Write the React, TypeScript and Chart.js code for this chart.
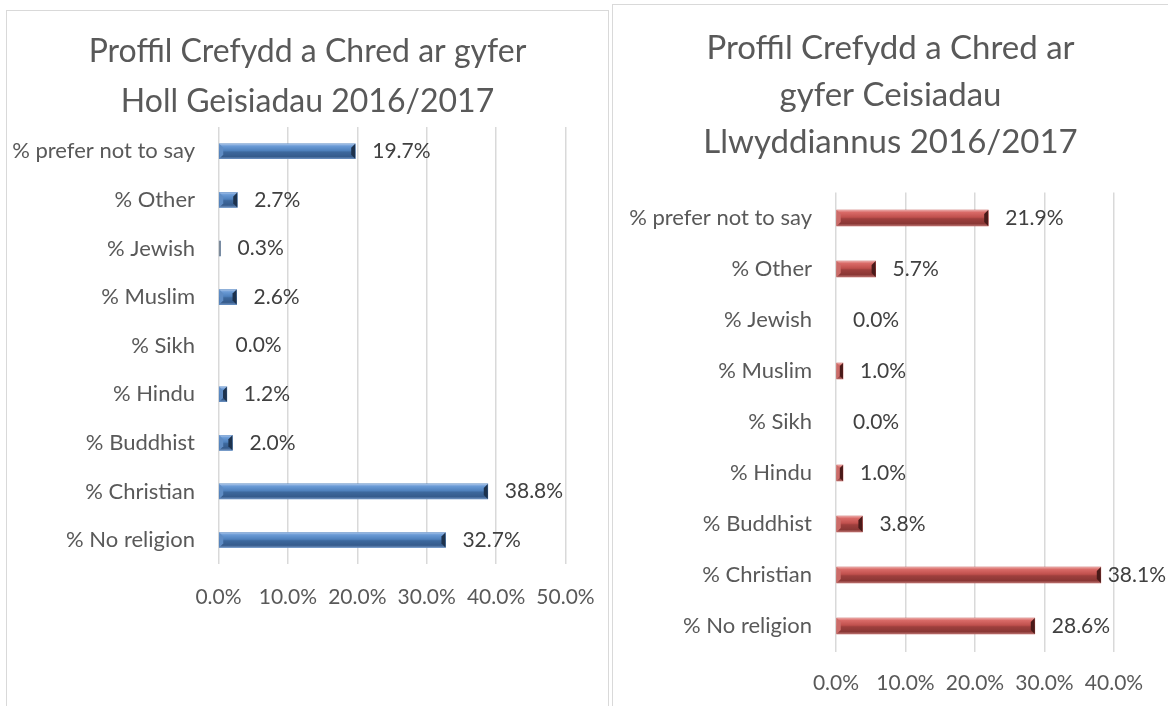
import React, { useEffect, useRef } from 'react';
import { Chart, registerables } from 'chart.js';

Chart.register(...registerables);

const categories = [
  '% prefer not to say',
  '% Other',
  '% Jewish',
  '% Muslim',
  '% Sikh',
  '% Hindu',
  '% Buddhist',
  '% Christian',
  '% No religion',
];
const allApplicantsPct = [19.7, 2.7, 0.3, 2.6, 0.0, 1.2, 2.0, 38.8, 32.7];
const successfulApplicantsPct = [21.9, 5.7, 0.0, 1.0, 0.0, 1.0, 3.8, 38.1, 28.6];
const leftTitle = ['Proffil Crefydd a Chred ar gyfer', 'Holl Geisiadau 2016/2017'];
const rightTitle = ['Proffil Crefydd a Chred ar', 'gyfer Ceisiadau', 'Llwyddiannus 2016/2017'];
const leftAxisMax = 50;
const rightAxisMax = 40;
const axisStep = 10;

const FONT = 'Lato';
const TEXT_GREY = '#595959';
const LABEL_GREY = '#404040';

const bluePalette = {
  base: '#4F81BD',
  stops: ['#a9c4e8', '#6b9bd6', '#4f81bd', '#3d689d', '#355b8c', '#6f90bd'],
  cap: '#1d324d',
  capLeft: '#5f8cc4',
};
const redPalette = {
  base: '#C0504D',
  stops: ['#eaa7a5', '#d96a67', '#c0504d', '#9e3f3d', '#8a3735', '#b86e6c'],
  cap: '#4a1a19',
  capLeft: '#cc6c69',
};

const bevelPlugin = {
  id: 'bevelBars',
  afterDatasetsDraw(chart: any, _args: any, opts: any) {
    const pal = opts.palette;
    const ctx = chart.ctx;
    const meta = chart.getDatasetMeta(0);
    meta.data.forEach((el: any) => {
      const { x, y, base, height } = el.getProps(['x', 'y', 'base', 'height'], true);
      const left = Math.min(x, base);
      const right = Math.max(x, base);
      const w = right - left;
      if (w < 0.3) return;
      const top = y - height / 2;
      const bottom = y + height / 2;
      ctx.save();
      if (w < 2) {
        ctx.fillStyle = '#8d8d8d';
        ctx.fillRect(left, top, Math.max(w, 1), height);
        ctx.restore();
        return;
      }
      const g = ctx.createLinearGradient(0, top, 0, bottom);
      g.addColorStop(0, pal.stops[0]);
      g.addColorStop(0.15, pal.stops[1]);
      g.addColorStop(0.45, pal.stops[2]);
      g.addColorStop(0.55, pal.stops[3]);
      g.addColorStop(0.85, pal.stops[4]);
      g.addColorStop(1, pal.stops[5]);
      ctx.fillStyle = g;
      ctx.fillRect(left, top, w, height);
      const b = Math.min(4, w / 2, height / 2);
      ctx.fillStyle = pal.capLeft;
      ctx.beginPath();
      ctx.moveTo(left, top);
      ctx.lineTo(left + b, top + b);
      ctx.lineTo(left + b, bottom - b);
      ctx.lineTo(left, bottom);
      ctx.closePath();
      ctx.fill();
      ctx.fillStyle = pal.cap;
      ctx.beginPath();
      ctx.moveTo(right - b, top + b);
      ctx.lineTo(right, top);
      ctx.lineTo(right, bottom);
      ctx.lineTo(right - b, bottom - b);
      ctx.closePath();
      ctx.fill();
      ctx.restore();
    });
  },
};

const valueLabelPlugin = {
  id: 'valueLabels',
  afterDatasetsDraw(chart: any, _args: any, opts: any) {
    const ctx = chart.ctx;
    const meta = chart.getDatasetMeta(0);
    const data = chart.data.datasets[0].data;
    ctx.save();
    ctx.font = `${opts.size}px ${FONT}`;
    ctx.fillStyle = LABEL_GREY;
    ctx.textBaseline = 'middle';
    ctx.textAlign = 'left';
    meta.data.forEach((el: any, i: number) => {
      const text = Number(data[i]).toFixed(1) + '%';
      const tw = ctx.measureText(text).width;
      let tx = el.x + opts.offset;
      tx = Math.min(tx, chart.width - tw - 2);
      ctx.fillText(text, tx, el.y);
    });
    ctx.restore();
  },
};

type PanelProps = {
  title: string[];
  values: number[];
  max: number;
  palette: any;
  box: { left: number; top: number; width: number; height: number };
  canvasW: number;
  canvasH: number;
  geo: {
    titleSize: number;
    yWidth: number;
    labelPad: number;
    padRight: number;
    titlePadTop: number;
    titleLine: number;
    titlePadBottom: number;
    xHeight: number;
    tickOffset: number;
    barThickness: number;
  };
};

function BarPanel({ title, values, max, palette, box, canvasW, canvasH, geo }: PanelProps) {
  const ref = useRef<HTMLCanvasElement | null>(null);
  useEffect(() => {
    if (!ref.current) return;
    const titleSize = geo.titleSize;
    const tickSize = 21;
    const chart = new Chart(ref.current, {
      type: 'bar',
      data: {
        labels: categories,
        datasets: [
          {
            data: values,
            backgroundColor: (c: any) => (c.raw > 0 ? palette.base : 'rgba(0,0,0,0)'),
            borderWidth: 0,
            barThickness: geo.barThickness,
          },
        ],
      },
      options: {
        indexAxis: 'y',
        animation: false,
        responsive: false,
        maintainAspectRatio: false,
        layout: { padding: 0 },
        plugins: {
          legend: { display: false },
          tooltip: { enabled: false },
          title: {
            display: true,
            text: title,
            color: TEXT_GREY,
            font: { family: FONT, size: titleSize, weight: 'normal', lineHeight: geo.titleLine / titleSize },
            padding: { top: geo.titlePadTop, bottom: geo.titlePadBottom },
          },
          bevelBars: { palette },
          valueLabels: { size: 21, offset: 17 },
        } as any,
        scales: {
          x: {
            min: 0,
            max,
            ticks: {
              stepSize: axisStep,
              color: TEXT_GREY,
              font: { family: FONT, size: tickSize, lineHeight: (geo.tickOffset * 2) / tickSize },
              padding: 0,
              callback: (v: any) => Number(v).toFixed(1) + '%',
            },
            grid: { color: '#d9d9d9', lineWidth: 1.5, drawTicks: false },
            border: { display: false },
            afterFit: (s: any) => {
              s.height = geo.xHeight;
            },
          },
          y: {
            ticks: {
              color: TEXT_GREY,
              font: { family: FONT, size: 22 },
              padding: geo.labelPad,
            },
            grid: { display: false, drawTicks: false },
            border: { display: false },
            afterFit: (s: any) => {
              s.width = geo.yWidth;
            },
          },
          yPad: {
            axis: 'y',
            type: 'category',
            position: 'right',
            display: true,
            ticks: { display: false },
            grid: { display: false, drawTicks: false },
            border: { display: false },
            afterFit: (s: any) => {
              s.width = geo.padRight;
            },
          },
        } as any,
      },
      plugins: [bevelPlugin, valueLabelPlugin],
    });
    return () => chart.destroy();
  }, []);

  return (
    <div
      style={{
        position: 'absolute',
        left: box.left,
        top: box.top,
        width: box.width,
        height: box.height,
        border: '1px solid #d9d9d9',
        background: '#fff',
      }}
    >
      <canvas ref={ref} width={canvasW} height={canvasH} style={{ display: 'block', width: canvasW, height: canvasH }} />
    </div>
  );
}

export default function App() {
  return (
    <div
      style={{
        position: 'fixed',
        left: 0,
        top: 0,
        width: 1168,
        height: 706,
        overflow: 'hidden',
        background: '#fff',
      }}
    >
      <BarPanel
        title={leftTitle}
        values={allApplicantsPct}
        max={leftAxisMax}
        palette={bluePalette}
        box={{ left: 6, top: 10, width: 601, height: 720 }}
        canvasW={601}
        canvasH={695}
        geo={{
          titleSize: 32,
          yWidth: 211.5,
          labelPad: 23.5,
          padRight: 42.5,
          titlePadTop: 16,
          titleLine: 50,
          titlePadBottom: 0,
          xHeight: 141.7,
          tickOffset: 32.7,
          barThickness: 15,
        }}
      />
      <BarPanel
        title={rightTitle}
        values={successfulApplicantsPct}
        max={rightAxisMax}
        palette={redPalette}
        box={{ left: 612, top: 4, width: 560, height: 720 }}
        canvasW={555}
        canvasH={701}
        geo={{
          titleSize: 33,
          yWidth: 223,
          labelPad: 24,
          padRight: 54,
          titlePadTop: 19.5,
          titleLine: 47,
          titlePadBottom: 27,
          xHeight: 54.5,
          tickOffset: 31.5,
          barThickness: 16,
        }}
      />
    </div>
  );
}
